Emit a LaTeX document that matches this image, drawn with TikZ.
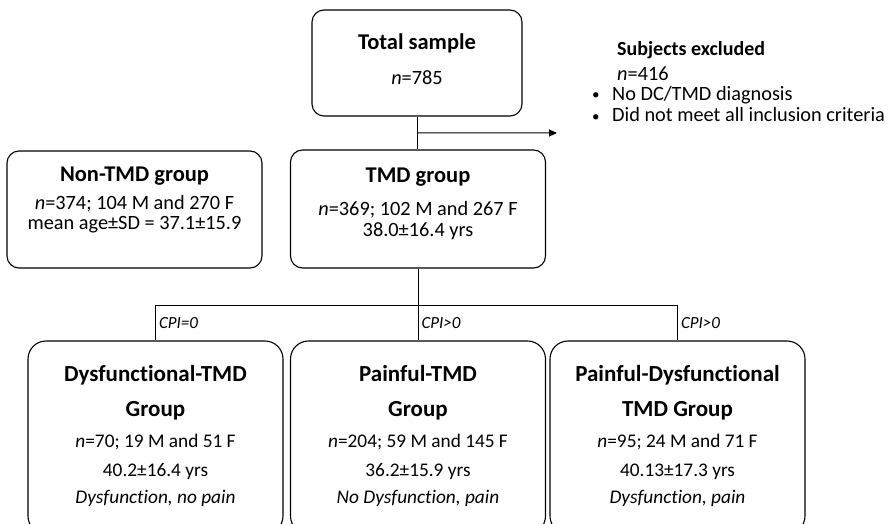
\documentclass[tikz,border=0pt]{standalone}
\usepackage{fontspec}
\setmainfont{Carlito}[Ligatures=NoCommon]
\usetikzlibrary{positioning,calc,arrows.meta}

\newcommand{\smallbullet}{\makebox[20pt][l]{\raisebox{1pt}{\fontsize{15}{15}\selectfont\textbullet}}}

\begin{document}
\begin{tikzpicture}[x=1pt,y=-1pt,
    box/.style={draw,line width=1.1pt,rounded corners=12pt,inner sep=0pt},
    grpbox/.style={box,rounded corners=18pt,minimum width=255pt,minimum height=193pt},
    title/.style={anchor=base,inner sep=0pt,font=\fontsize{22.5}{22.5}\selectfont\bfseries},
    body/.style={anchor=base,inner sep=0pt,font=\fontsize{20.3}{20.3}\selectfont},
    grptitle/.style={title,font=\fontsize{23}{23}\selectfont\bfseries},
    grpline/.style={body,font=\fontsize{19.3}{19.3}\selectfont},
    line/.style={line width=1pt},
    cpi/.style={font=\fontsize{17}{17}\selectfont\itshape,anchor=west,inner sep=3pt}]
\useasboundingbox (0,0) rectangle (894,524);
\clip (0,0) rectangle (894,524);

% boxes
\node[box,minimum width=210pt,minimum height=106pt] (total) at (417,63) {};
\node[box,minimum width=255pt,minimum height=117pt] (nontmd) at (134.5,209.5) {};
\node[box,minimum width=255pt,minimum height=118pt] (tmd) at (418,209) {};
\node[grpbox] (dys) at (155.5,437.5) {};
\node[grpbox] (pain) at (418,437.5) {};
\node[grpbox] (pdys) at (677.5,437.5) {};

% texts of the upper boxes
\node[title] (total-t) at ($(total.north)+(0,40)$) {Total sample};
\node[body] (total-n) at ($(total.north)+(0,75)$) {\textit{n}=785};
\node[title] (nontmd-t) at ($(nontmd.north)+(0,31)$) {Non-TMD group};
\node[body] (nontmd-n) at ($(nontmd.north)+(0,59)$) {\textit{n}=374; 104 M and 270 F};
\node[body] (nontmd-age) at ($(nontmd.north)+(0,79)$) {mean age±SD = 37.1±15.9};
\node[title] (tmd-t) at ($(tmd.north)+(0,33)$) {TMD group};
\node[body] (tmd-n) at ($(tmd.north)+(0,66)$) {\textit{n}=369; 102 M and 267 F};
\node[body] (tmd-age) at ($(tmd.north)+(0,87)$) {38.0±16.4 yrs};

% texts of the three groups
\foreach \b/\ta/\tb/\nn/\age/\note in {
    dys/Dysfunctional-TMD/Group/{70; 19 M and 51 F}/{40.2±16.4 yrs}/{Dysfunction, no pain},
    pain/Painful-TMD/Group/{204; 59 M and 145 F}/{36.2±15.9 yrs}/{No Dysfunction, pain},
    pdys/Painful-Dysfunctional/TMD Group/{95; 24 M and 71 F}/{40.13±17.3 yrs}/{Dysfunction, pain}}
{
  \node[grptitle] (\b-ta) at ($(\b.north)+(0,41)$) {\ta};
  \node[grptitle] (\b-tb) at ($(\b.north)+(0,76)$) {\tb};
  \node[grpline] (\b-n) at ($(\b.north)+(0,107)$) {\textit{n}=\nn};
  \node[grpline] (\b-age) at ($(\b.north)+(0,136)$) {\age};
  \node[grpline,font=\fontsize{19.3}{19.3}\selectfont\itshape] (\b-note) at ($(\b.north)+(0,163)$) {\note};
}

% excluded subjects
\node[body,anchor=base west,font=\fontsize{20}{20}\selectfont\bfseries] (exc-t) at (617,56) {Subjects excluded};
\node[body,anchor=base west] (exc-n) at (617,81) {\textit{n}=416};
\node[body,anchor=base west] (exc-a) at (592,101) {\smallbullet No DC/TMD diagnosis};
\node[body,anchor=base west] (exc-b) at (592,122) {\smallbullet Did not meet all inclusion criteria};

% connectors
\draw[line] (total.south) -- (total.south |- tmd.north);
\coordinate (excl) at ($(total.south)!.5!(total.south |- tmd.north)$);
\coordinate (exclend) at (557,133);
\draw[line,-{Triangle[length=8pt,width=7pt]}] (excl) -- (exclend);
\coordinate (split) at ($(tmd.south)+(0,37)$);
\draw[line] (tmd.south) -- (split);
\draw[line] (split) -| node[cpi,pos=.75] (cpi0) {CPI=0} (dys.north);
\draw[line] (split) -- node[cpi] (cpi1) {CPI>0} (pain.north);
\draw[line] (split) -| node[cpi,pos=.75] (cpi2) {CPI>0} (pdys.north);
\end{tikzpicture}
\end{document}
